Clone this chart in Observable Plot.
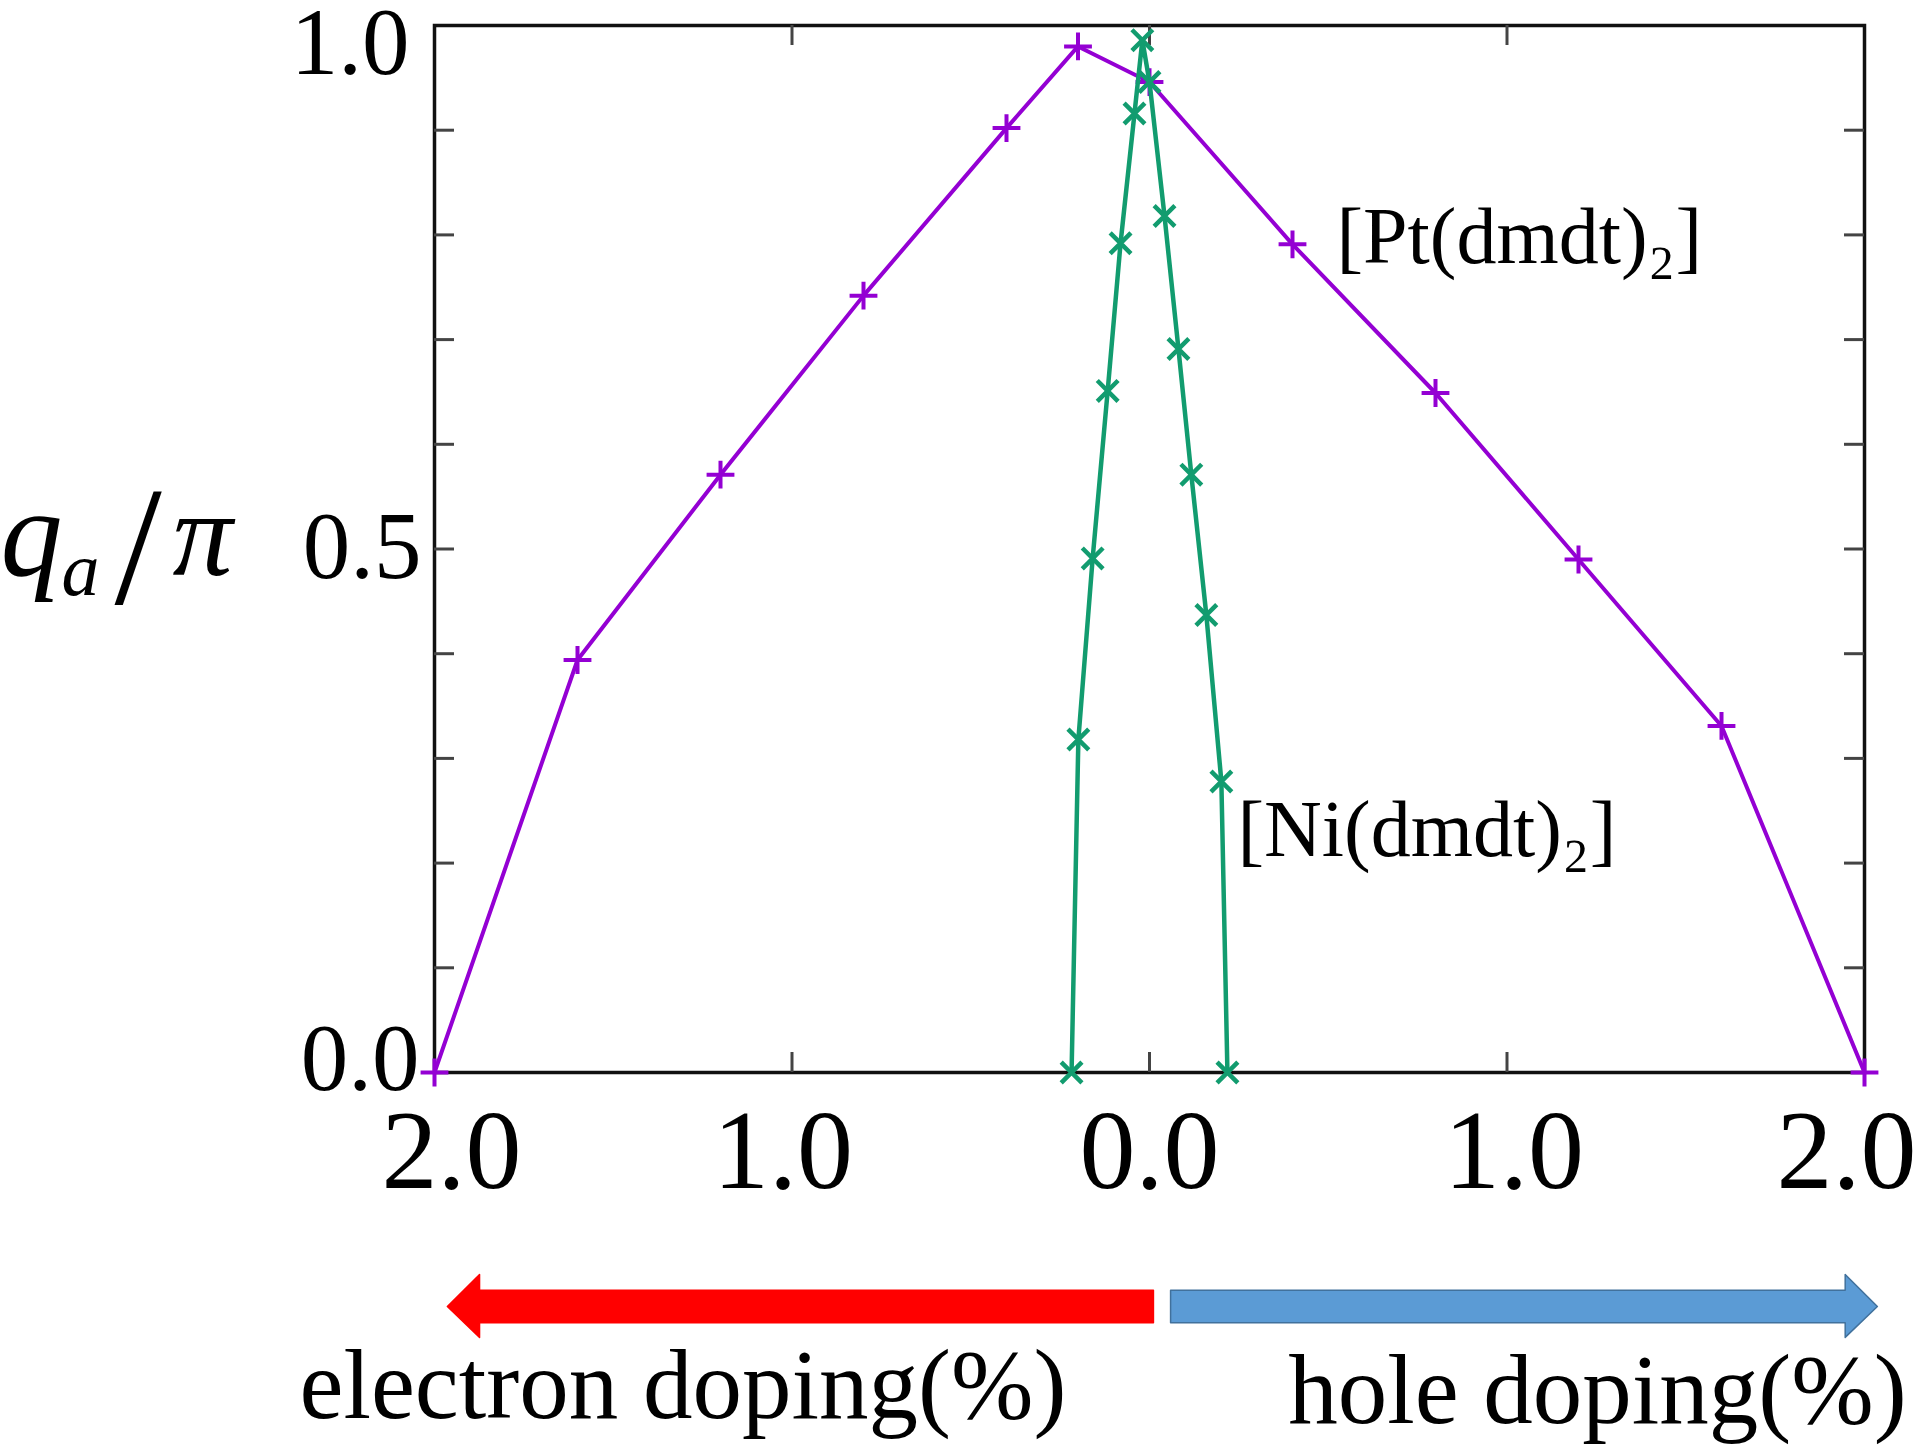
<!DOCTYPE html>
<html>
<head>
<meta charset="utf-8">
<script src="https://cdn.jsdelivr.net/npm/d3@7"></script>
<script src="https://cdn.jsdelivr.net/npm/@observablehq/plot@0.6"></script>
<style>
html, body { margin: 0; padding: 0; background: #ffffff; }
#chart svg { display: block; }
</style>
</head>
<body>
<div id="chart"></div>
<script>
// ---- Data ----
// x: doping (%), negative = electron doping, positive = hole doping
const ptX = [-2.0, -1.6, -1.2, -0.8, -0.4, -0.2, 0.0, 0.4, 0.8, 1.2, 1.6, 2.0];
const ptY = [0.0, 0.394, 0.571, 0.742, 0.902, 0.980, 0.946, 0.791, 0.649, 0.490, 0.331, 0.0];

const niX = [-0.218, -0.199, -0.159, -0.117, -0.081, -0.042, -0.020, 0.0, 0.042, 0.081, 0.117, 0.159, 0.201, 0.218];
const niY = [0.0, 0.318, 0.491, 0.651, 0.792, 0.916, 0.986, 0.946, 0.818, 0.691, 0.571, 0.437, 0.278, 0.0];

const seriesNames = ["[Pt(dmdt)\u2082]", "[Ni(dmdt)\u2082]"];
const seriesColors = ["#9400d3", "#129c6f"];
const seriesLabelX = [0.523, 0.246];
const seriesLabelY = [0.773, 0.207];

const xTickValues = [-2, -1, 0, 1, 2];
const xTickShift = [17, -9, 0, 7, -18];
const yTickValues = [1.0, 0.5, 0.0];
const yTickShift = [18, -1, -13];
const yTickPad = [25, 13, 15];
const xMinorTicks = [-1, 0, 1];
const yMinorTicks = [0.1, 0.2, 0.3, 0.4, 0.5, 0.6, 0.7, 0.8, 0.9];

const dopingLabels = ["electron doping(%)", "hole doping(%)"];
const dopingLabelX = [-1.305, 1.253];
const dopingLabelY = [-0.330, -0.335];
const arrowFrom = [0.011, 0.059];
const arrowTo = [-1.964, 2.036];
const arrowFill = ["#ff0000", "#5b9bd5"];
const arrowStroke = ["#ff0000", "#41719c"];

// ---- Derived tables ----
const pt = ptX.map((x, i) => ({x, y: ptY[i]}));
const ni = niX.map((x, i) => ({x, y: niY[i]}));
const seriesLabels = seriesNames.map((t, i) => ({t, x: seriesLabelX[i], y: seriesLabelY[i]}));
const doping = dopingLabels.map((t, i) => ({t, x: dopingLabelX[i], y: dopingLabelY[i]}));

// block arrow polygons (data units)
const shaftTop = -0.208, shaftBot = -0.239, headTop = -0.193, headBot = -0.253, mid = -0.2235, headLen = 0.09;
function arrowPoly(a, b) {
  const s = Math.sign(b - a), hb = b - s * headLen;
  return [
    {x: a, y: shaftTop}, {x: hb, y: shaftTop}, {x: hb, y: headTop}, {x: b, y: mid},
    {x: hb, y: headBot}, {x: hb, y: shaftBot}, {x: a, y: shaftBot}, {x: a, y: shaftTop}
  ];
}

const W = 1916, H = 1449;
const mL = 434, mR = 52, mT = 25, mB = 377;
const fw = W - mL - mR, fh = H - mT - mB;
const tickLen = 20;
const serif = "'Liberation Serif', 'DejaVu Serif', serif";

const marks = [
  Plot.frame({stroke: "#111", strokeWidth: 3.5}),
  // inward ticks
  Plot.tickY(yMinorTicks, {y: d => d, insetRight: fw - tickLen, stroke: "#444", strokeWidth: 3}),
  Plot.tickY(yMinorTicks, {y: d => d, insetLeft: fw - tickLen, stroke: "#444", strokeWidth: 3}),
  Plot.tickX(xMinorTicks, {x: d => d, insetTop: fh - tickLen, stroke: "#444", strokeWidth: 3}),
  Plot.tickX(xMinorTicks, {x: d => d, insetBottom: fh - tickLen, stroke: "#444", strokeWidth: 3}),
];

// x tick labels (absolute doping)
xTickValues.forEach((v, i) => {
  marks.push(Plot.axisX({anchor: "bottom", ticks: [v], tickSize: 0, tickPadding: 36, dx: xTickShift[i],
    tickFormat: d => Math.abs(d).toFixed(1), fontSize: 112, fill: "#000", label: null}));
});
// y tick labels
yTickValues.forEach((v, i) => {
  marks.push(Plot.axisY({anchor: "left", ticks: [v], tickSize: 0, tickPadding: yTickPad[i], dy: yTickShift[i],
    tickFormat: d => d.toFixed(1), fontSize: 95, fill: "#000", label: null}));
});

// y axis label  q_a / π
marks.push(
  Plot.text(["q"], {text: d => d, frameAnchor: "left", dx: -mL, dy: 26, textAnchor: "start", lineAnchor: "bottom", fontSize: 124, fontStyle: "italic", fill: "#000"}),
  Plot.text(["a"], {text: d => d, frameAnchor: "left", dx: -mL + 61, dy: 46, textAnchor: "start", lineAnchor: "bottom", fontSize: 76, fontStyle: "italic", fill: "#000"}),
  Plot.text(["/"], {text: d => d, frameAnchor: "left", dx: -mL + 114, dy: 54, textAnchor: "start", lineAnchor: "bottom", fontSize: 170, fill: "#000"}),
  Plot.text(["\u03c0"], {text: d => d, frameAnchor: "left", dx: -mL + 172, dy: 26, textAnchor: "start", lineAnchor: "bottom", fontSize: 120, fontStyle: "italic", fill: "#000"})
);

// series
marks.push(
  Plot.line(pt, {x: "x", y: "y", stroke: seriesColors[0], strokeWidth: 4}),
  Plot.dot(pt, {x: "x", y: "y", symbol: "plus", r: 9, stroke: seriesColors[0], strokeWidth: 4}),
  Plot.line(ni, {x: "x", y: "y", stroke: seriesColors[1], strokeWidth: 4.5}),
  Plot.dot(ni, {x: "x", y: "y", symbol: "times", r: 9.5, stroke: seriesColors[1], strokeWidth: 4.5}),
  Plot.text(seriesLabels, {x: "x", y: "y", text: "t", textAnchor: "start", lineAnchor: "bottom", fontSize: 80, fill: "#000"})
);

// doping arrows and labels
arrowFrom.forEach((a, i) => {
  marks.push(Plot.line(arrowPoly(a, arrowTo[i]), {x: "x", y: "y", fill: arrowFill[i], stroke: arrowStroke[i], strokeWidth: 1.5, curve: "linear"}));
});
marks.push(Plot.text(doping, {x: "x", y: "y", text: "t", textAnchor: "middle", lineAnchor: "bottom", fontSize: 99, fill: "#000"}));

const chart = Plot.plot({
  width: W,
  height: H,
  marginLeft: mL,
  marginRight: mR,
  marginTop: mT,
  marginBottom: mB,
  x: {domain: [-2, 2]},
  y: {domain: [0, 1]},
  style: {fontFamily: serif, background: "#ffffff", color: "#000", overflow: "visible"},
  marks
});
document.getElementById("chart").appendChild(chart);
</script>
</body>
</html>
